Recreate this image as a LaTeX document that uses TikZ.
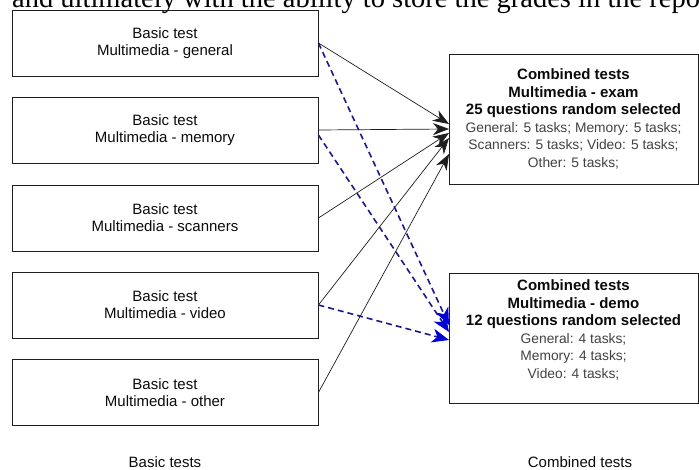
\documentclass[tikz,border=0pt]{standalone}
\usepackage{fontspec}
\setmainfont{Liberation Sans}
\newfontfamily\pageserif{Liberation Serif}
\usetikzlibrary{arrows.meta}
\definecolor{MMline}{RGB}{30,30,30}
\definecolor{MMtext}{RGB}{10,10,10}
\definecolor{MMgray}{RGB}{65,65,65}
\definecolor{MMdblue}{RGB}{25,25,140}
\definecolor{MMblue}{RGB}{0,0,215}
\newcommand{\tasklist}[1]{{\fontsize{13.8}{16.7}\selectfont\mdseries\color{MMgray}#1}}

\begin{document}
\begin{tikzpicture}[x=1pt, y=-1pt,
	basicnode/.style={draw=MMline, line width=.9pt, minimum width=306pt, minimum height=66pt, inner sep=0, align=center, text=MMtext, font=\fontsize{15}{17}\selectfont},
	combnode/.style={draw=MMline, line width=.9pt, minimum width=249pt, minimum height=130pt, inner sep=0, align=center, text=MMtext, font=\fontsize{15}{17.5}\selectfont\bfseries},
	caption/.style={inner sep=0, text=MMtext, font=\fontsize{15}{17}\selectfont},
	feed/.style={MMline, line width=.7pt, -{Stealth[length=16pt, width=12pt, inset=5pt]}},
	demofeed/.style={MMdblue, line width=1.6pt, dash pattern=on 6pt off 4pt, -{Stealth[length=17pt, width=14pt, inset=5pt, color=MMblue]}}
	]
	\useasboundingbox (0,0) rectangle (699,470);

	% line of the page above the figure
	\begin{scope}
		\clip (0,0) rectangle (699,470);
		\node (pageline) at (12,8) [anchor=base west, inner sep=0, font=\pageserif\fontsize{28.5}{30}\selectfont] {and ultimately with the ability to store the grades in the repo};
	\end{scope}

	\node (gen) at (165,43) [basicnode] {Basic test\\Multimedia - general};
	\node (mem) at (165,130) [basicnode] {Basic test\\Multimedia - memory};
	\node (scan) at (165,218) [basicnode] {Basic test\\Multimedia - scanners};
	\node (vid) at (165,305) [basicnode] {Basic test\\Multimedia - video};
	\node (oth) at (165,392.5) [basicnode] {Basic test\\Multimedia - other};

	\node (exam) at (573.5,119) [combnode] {Combined tests\\Multimedia - exam\\25 questions random selected\\
		\tasklist{General: 5 tasks; Memory: 5 tasks;}\\\tasklist{Scanners: 5 tasks; Video: 5 tasks;}\\\tasklist{Other: 5 tasks;}};
	\node (demo) at (573.5,338) [combnode] {Combined tests\\Multimedia - demo\\12 questions random selected\\
		\tasklist{General: 4 tasks;}\\\tasklist{Memory: 4 tasks;}\\\tasklist{Video: 4 tasks;}\\\mbox{}};

	\node (basiccap) at (165,462) [caption] {Basic tests};
	\node (combcap) at (580,462) [caption] {Combined tests};

	% arrow ends on the combined boxes
	\coordinate (e1) at (449,124);
	\coordinate (e2) at (449,129);
	\coordinate (e3) at (449,133);
	\coordinate (e4) at (449,138);
	\coordinate (e5) at (449,154);
	\coordinate (d1) at (449,325);
	\coordinate (d2) at (449,332);
	\coordinate (d4) at (449,340);

	\draw [feed] (gen.east) -- (e1);
	\draw [feed] (mem.east) -- (e2);
	\draw [feed] (scan.east) -- (e3);
	\draw [feed] (vid.east) -- (e4);
	\draw [feed] (oth.east) -- (e5);

	\draw [demofeed] (gen.east) -- (d1);
	\draw [demofeed] ([yshift=-5pt]mem.east) -- (d2);
	\draw [demofeed] (vid.east) -- (d4);
\end{tikzpicture}
\end{document}
